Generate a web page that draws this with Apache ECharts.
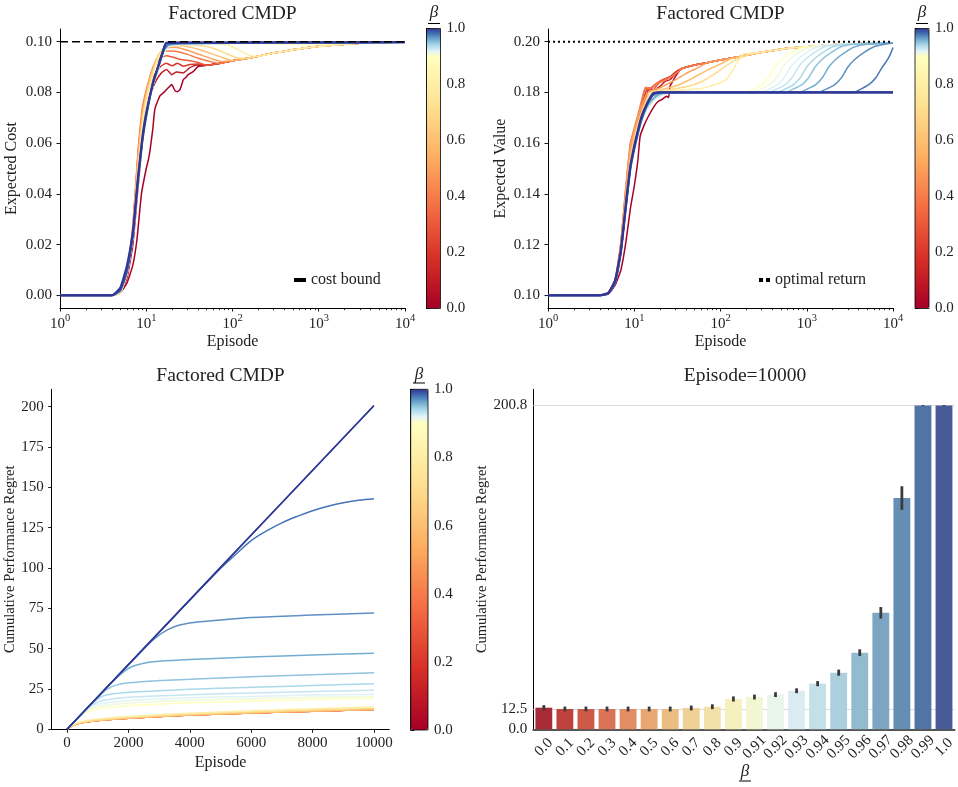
<!DOCTYPE html>
<html><head><meta charset="utf-8">
<script src="https://cdn.jsdelivr.net/npm/echarts@6/dist/echarts.min.js"></script>
<style>html,body{margin:0;padding:0;background:#fff}#c{width:958px;height:787px}</style>
</head><body><div id="c"></div><script>
// ---------------- DATA ----------------
const betas = [0.0,0.1,0.2,0.3,0.4,0.5,0.6,0.7,0.8,0.9,0.91,0.92,0.93,0.94,0.95,0.96,0.97,0.98,0.99,1.0];
const betaLabels = ['0.0','0.1','0.2','0.3','0.4','0.5','0.6','0.7','0.8','0.9','0.91','0.92','0.93','0.94','0.95','0.96','0.97','0.98','0.99','1.0'];

// Expected cost (top-left): [episode, cost]; common slow tail
const costTail = [[50,0.0907],[70,0.0914],[100,0.0925],[150,0.0935],[200,0.0943],[300,0.0955],[500,0.0968],[700,0.0975],[1000,0.0982],[2000,0.099],[3000,0.0994],[5000,0.0997],[10000,0.0998]];
const costHeads = [
  [[1,0],[4,0],[5,0.001],[6,0.005],[7,0.012],[7.8,0.022],[8.8,0.040],[10,0.050],[10.6,0.0535],[11.1,0.0575],[11.9,0.0654],[12.6,0.0735],[14.4,0.0786],[16,0.080],[18,0.0818],[19.7,0.0831],[21.6,0.0806],[23,0.0803],[24.6,0.0811],[26.9,0.085],[28.5,0.0858],[30.6,0.087],[35,0.0882],[40,0.0902]],
  [[1,0],[4,0],[5,0.001],[6,0.007],[7,0.02],[8,0.042],[9,0.06],[10,0.07],[11,0.078],[12,0.082],[13.2,0.085],[15,0.0877],[17.2,0.089],[19.7,0.087],[22.5,0.088],[26.9,0.0877],[32,0.0898],[38.5,0.0908],[45,0.0905]],
  [[1,0],[4,0],[5,0.001],[6,0.008],[7,0.024],[8,0.05],[9,0.068],[10,0.077],[11,0.083],[12,0.086],[13,0.088],[15,0.0905],[17,0.0915],[20,0.0905],[23,0.0915],[27,0.0903],[32,0.091],[40,0.0912]],
  [[1,0],[4,0],[5,0.001],[6,0.008],[7,0.026],[8,0.055],[9,0.072],[10,0.08],[11,0.085],[12,0.089],[14,0.093],[17,0.0945],[20,0.094],[25,0.093],[32,0.0925],[40,0.0918]],
  [[1,0],[4,0],[5,0.001],[6,0.009],[7,0.028],[8,0.056],[9,0.074],[10,0.081],[11,0.086],[12,0.09],[14,0.094],[17,0.0963],[22,0.0962],[30,0.095],[40,0.0935],[55,0.0922]],
  [[1,0],[4,0],[5,0.001],[6,0.009],[7,0.027],[8,0.054],[9,0.072],[10,0.08],[11,0.086],[12,0.09],[14,0.095],[17,0.0975],[22,0.0978],[30,0.0966],[45,0.0945],[75,0.0922]],
  [[1,0],[4,0],[5,0.001],[6,0.009],[7,0.026],[8,0.052],[9,0.07],[10,0.079],[11,0.085],[12,0.089],[14,0.095],[16,0.097],[18,0.0983],[25,0.0985],[40,0.097],[60,0.095],[85,0.0932]],
  [[1,0],[4,0],[5,0.001],[6,0.009],[7,0.025],[8,0.05],[9,0.068],[10,0.078],[12,0.088],[14,0.095],[16,0.0975],[20,0.0988],[35,0.0988],[55,0.0978],[80,0.0957],[110,0.0937]],
  [[1,0],[4,0],[5,0.001],[6,0.009],[7,0.024],[8,0.048],[9,0.066],[10,0.076],[12,0.087],[14,0.094],[16,0.097],[20,0.0988],[60,0.099],[90,0.0986],[120,0.0966],[160,0.0945]],
  [[1,0],[4,0],[5,0.0015],[6,0.009],[7,0.023],[8,0.044],[9,0.06],[10,0.07],[12,0.083],[14,0.09],[16,0.0955],[18,0.098],[25,0.099],[100,0.0993],[300,0.0992],[600,0.0988],[1000,0.099],[3000,0.0995],[10000,0.0998]],
  [[1,0],[4,0],[5,0.0015],[6,0.009],[7,0.023],[8,0.044],[9,0.06],[10,0.07],[12,0.083],[14,0.09],[16,0.096],[18,0.0982],[25,0.099],[100,0.0994],[1000,0.0996],[10000,0.0998]],
  [[1,0],[4,0],[5,0.0015],[6,0.009],[7,0.023],[8,0.044],[9,0.06],[10,0.07],[12,0.083],[14,0.09],[16,0.096],[18,0.0982],[25,0.099],[100,0.0994],[1000,0.0996],[10000,0.0998]],
  [[1,0],[4,0],[5,0.0015],[6,0.009],[7,0.023],[8,0.045],[9,0.061],[10,0.071],[12,0.083],[14,0.09],[16,0.0962],[18,0.0984],[25,0.0991],[100,0.0994],[1000,0.0996],[10000,0.0998]],
  [[1,0],[4,0],[5,0.0015],[6,0.009],[7,0.023],[8,0.045],[9,0.061],[10,0.071],[12,0.083],[14,0.09],[16,0.0962],[18,0.0984],[25,0.0991],[100,0.0994],[1000,0.0996],[10000,0.0998]],
  [[1,0],[4,0],[5,0.0018],[6,0.009],[7,0.023],[8,0.045],[9,0.061],[10,0.071],[12,0.084],[14,0.091],[16,0.0965],[18,0.0986],[25,0.0992],[100,0.0995],[1000,0.0996],[10000,0.0998]],
  [[1,0],[4,0],[5,0.0018],[6,0.009],[7,0.023],[8,0.045],[9,0.061],[10,0.071],[12,0.084],[14,0.091],[16,0.0965],[18,0.0986],[25,0.0992],[100,0.0995],[1000,0.0996],[10000,0.0998]],
  [[1,0],[4,0],[5,0.002],[6,0.01],[7,0.024],[8,0.045],[9,0.061],[10,0.071],[12,0.084],[14,0.091],[16,0.0968],[18,0.0988],[25,0.0993],[100,0.0995],[1000,0.0996],[10000,0.0998]],
  [[1,0],[4,0],[5,0.002],[6,0.01],[7,0.024],[8,0.045],[9,0.061],[10,0.071],[12,0.084],[14,0.091],[16,0.097],[18,0.099],[25,0.0994],[100,0.0995],[1000,0.0996],[10000,0.0998]],
  [[1,0],[4,0],[5,0.002],[6,0.01],[7,0.024],[8,0.045],[9,0.061],[10,0.071],[12,0.084],[14,0.091],[16,0.097],[17,0.0995],[30,0.0996],[300,0.0997],[10000,0.0998]],
  [[1,0],[4,0],[5,0.003],[6,0.012],[7,0.025],[8,0.046],[9,0.062],[10,0.072],[12,0.0837],[13.8,0.0904],[15.8,0.0969],[17.2,0.0995],[30,0.0996],[300,0.0997],[10000,0.0998]]
];
const costBound = 0.1;

// Expected value (top-right): [episode, value]
const valueTail = [[35,0.1893],[50,0.1908],[70,0.1917],[100,0.1928],[170,0.1942],[300,0.1958],[640,0.1975],[1000,0.198],[2000,0.1988],[5000,0.1993],[10000,0.1995]];
const valueHeads = [
  [[1,0.1],[4,0.1],[5,0.1005],[6,0.104],[7,0.11],[8,0.121],[9,0.134],[10,0.143],[11,0.153],[11.7,0.1627],[13,0.167],[14.6,0.1706],[17,0.1745],[19,0.1765],[21,0.1772],[23.7,0.1785],[25,0.178],[26,0.1825],[28,0.1845],[31,0.187]],
  [[1,0.1],[4,0.1],[5,0.101],[6,0.105],[7,0.117],[8,0.135],[9,0.152],[10,0.16],[11,0.166],[12,0.171],[14,0.1795],[15,0.1815],[17,0.181],[20,0.1825],[23,0.1845],[26,0.185],[30,0.1875]],
  [[1,0.1],[4,0.1],[5,0.101],[6,0.106],[7,0.12],[8,0.14],[9,0.156],[10,0.163],[11,0.168],[12,0.1735],[14,0.1815],[16,0.1818],[18,0.1835],[22,0.1852],[26,0.1862],[30,0.188]],
  [[1,0.1],[4,0.1],[5,0.101],[6,0.106],[7,0.121],[8,0.142],[9,0.159],[10,0.165],[11,0.17],[12,0.175],[13.5,0.1818],[16,0.1805],[18,0.1825],[21,0.1848],[25,0.1858],[30,0.1872]],
  [[1,0.1],[4,0.1],[5,0.101],[6,0.106],[7,0.121],[8,0.143],[9,0.16],[10,0.166],[11,0.171],[12,0.176],[13.5,0.182],[15,0.1815],[18,0.1835],[22,0.1845],[27,0.1862],[32,0.188]],
  [[1,0.1],[4,0.1],[5,0.101],[6,0.106],[7,0.12],[8,0.142],[9,0.158],[10,0.165],[11,0.17],[12,0.174],[14,0.1795],[16,0.1808],[20,0.1818],[25,0.1835],[32,0.1855],[40,0.1875],[55,0.1898]],
  [[1,0.1],[4,0.1],[5,0.101],[6,0.105],[7,0.118],[8,0.138],[9,0.155],[10,0.163],[11,0.168],[12,0.172],[14,0.178],[16,0.1803],[20,0.181],[30,0.1825],[45,0.1852],[70,0.1888],[100,0.1912],[130,0.1932]],
  [[1,0.1],[4,0.1],[5,0.101],[6,0.105],[7,0.117],[8,0.136],[9,0.153],[10,0.161],[11,0.167],[12,0.171],[14,0.177],[16,0.1802],[25,0.181],[40,0.1822],[60,0.1842],[90,0.1878],[120,0.1908],[150,0.1928],[200,0.1945]],
  [[1,0.1],[4,0.1],[5,0.101],[6,0.105],[7,0.117],[8,0.135],[9,0.151],[10,0.16],[11,0.166],[12,0.17],[14,0.176],[17,0.18],[30,0.1808],[60,0.1815],[100,0.1838],[120,0.1855],[140,0.189],[160,0.1925],[185,0.1952],[230,0.1955]],
  [[1,0.1],[4,0.1],[5,0.1008],[6,0.105],[7,0.117],[8,0.134],[9,0.149],[10,0.157],[11,0.163],[12,0.168],[14,0.173],[17,0.177],[20,0.1788],[25,0.1797],[30,0.18],[200,0.18],[215,0.1805],[300,0.183],[365,0.186],[430,0.19],[515,0.193],[645,0.1955],[860,0.1975]],
  [[1,0.1],[4,0.1],[5,0.1008],[6,0.105],[7,0.117],[8,0.134],[9,0.149],[10,0.157],[11,0.163],[12,0.168],[14,0.173],[17,0.177],[20,0.1788],[25,0.1797],[30,0.18],[250,0.18],[265,0.1805],[370,0.183],[450,0.186],[530,0.19],[635,0.193],[795,0.1955],[1060,0.1977]],
  [[1,0.1],[4,0.1],[5,0.1008],[6,0.105],[7,0.117],[8,0.134],[9,0.149],[10,0.157],[11,0.163],[12,0.168],[14,0.1735],[17,0.1772],[20,0.179],[25,0.1798],[30,0.18],[300,0.18],[325,0.1805],[455,0.183],[550,0.186],[650,0.19],[780,0.193],[975,0.1955],[1300,0.1978]],
  [[1,0.1],[4,0.1],[5,0.1008],[6,0.105],[7,0.117],[8,0.134],[9,0.149],[10,0.157],[11,0.163],[12,0.168],[14,0.1735],[17,0.1772],[20,0.179],[25,0.1798],[30,0.18],[380,0.18],[400,0.1805],[560,0.183],[680,0.186],[800,0.19],[960,0.193],[1200,0.1955],[1600,0.198]],
  [[1,0.1],[4,0.1],[5,0.1008],[6,0.105],[7,0.117],[8,0.134],[9,0.149],[10,0.157],[11,0.163],[12,0.168],[14,0.174],[17,0.1775],[20,0.1792],[25,0.1799],[30,0.18],[470,0.18],[500,0.1805],[700,0.183],[850,0.186],[1000,0.19],[1200,0.193],[1500,0.1955],[2000,0.198],[3000,0.199]],
  [[1,0.1],[4,0.1],[5,0.1008],[6,0.105],[7,0.117],[8,0.135],[9,0.15],[10,0.158],[11,0.164],[12,0.169],[14,0.1745],[17,0.178],[20,0.1795],[30,0.18],[590,0.18],[620,0.1805],[875,0.183],[1060,0.186],[1250,0.19],[1500,0.193],[1875,0.1955],[2500,0.198],[3500,0.199]],
  [[1,0.1],[4,0.1],[5,0.1008],[6,0.105],[7,0.117],[8,0.135],[9,0.15],[10,0.158],[11,0.164],[12,0.169],[14,0.1745],[17,0.178],[20,0.1795],[30,0.18],[850,0.18],[900,0.1805],[1260,0.183],[1530,0.186],[1800,0.19],[2160,0.193],[2700,0.1955],[3600,0.198],[5000,0.199],[10000,0.1995]],
  [[1,0.1],[4,0.1],[5,0.1008],[6,0.105],[7,0.117],[8,0.135],[9,0.15],[10,0.158],[11,0.164],[12,0.169],[14,0.175],[16,0.1785],[20,0.1798],[30,0.18],[1400,0.18],[1500,0.1805],[2100,0.183],[2550,0.186],[3000,0.19],[3600,0.193],[4500,0.1955],[6000,0.198],[8000,0.199],[10000,0.1995]],
  [[1,0.1],[4,0.1],[5,0.1008],[6,0.105],[7,0.117],[8,0.135],[9,0.15],[10,0.158],[11,0.164],[12,0.169],[14,0.175],[16,0.1785],[17,0.1795],[20,0.18],[3500,0.18],[3800,0.1805],[5200,0.183],[6400,0.186],[7500,0.19],[8500,0.1925],[9300,0.195],[10000,0.1977]],
  [[1,0.1],[4,0.1],[5,0.1008],[6,0.105],[7,0.117],[8,0.135],[9,0.15],[10,0.158],[11,0.164],[12,0.169],[14,0.175],[16,0.1785],[17,0.1795],[20,0.18],[10000,0.18]],
  [[1,0.1],[4,0.1],[5,0.101],[6,0.106],[7,0.118],[8,0.136],[9,0.151],[10,0.159],[11,0.165],[12,0.17],[14,0.1755],[16,0.179],[17,0.1798],[20,0.18],[10000,0.18]]
];
const optimalReturn = 0.2;

// Cumulative performance regret (bottom-left): [episode, regret]
const regretCurves = [
  [[0,0],[100,1.5],[300,3.3],[600,4.6],[1000,5.6],[2000,7.0],[4000,8.9],[6000,10.2],[8000,11.3],[10000,12.4]],
  [[0,0],[100,1.4],[300,3.2],[600,4.5],[1000,5.5],[2000,6.9],[4000,8.8],[6000,10.1],[8000,11.2],[10000,12.3]],
  [[0,0],[100,1.4],[300,3.2],[600,4.5],[1000,5.5],[2000,6.9],[4000,8.8],[6000,10.1],[8000,11.2],[10000,12.3]],
  [[0,0],[100,1.4],[300,3.2],[600,4.5],[1000,5.5],[2000,6.9],[4000,8.8],[6000,10.1],[8000,11.2],[10000,12.3]],
  [[0,0],[100,1.4],[300,3.2],[600,4.5],[1000,5.5],[2000,6.9],[4000,8.8],[6000,10.1],[8000,11.2],[10000,12.3]],
  [[0,0],[100,1.4],[300,3.2],[600,4.5],[1000,5.5],[2000,6.9],[4000,8.8],[6000,10.1],[8000,11.2],[10000,12.3]],
  [[0,0],[100,1.4],[300,3.2],[600,4.5],[1000,5.5],[2000,6.9],[4000,8.8],[6000,10.1],[8000,11.2],[10000,12.3]],
  [[0,0],[100,1.5],[300,3.4],[600,4.8],[1000,5.8],[2000,7.3],[4000,9.3],[6000,10.7],[8000,11.9],[10000,13.0]],
  [[0,0],[100,1.6],[300,3.8],[600,5.3],[1000,6.4],[2000,8.0],[4000,10.0],[6000,11.5],[8000,12.7],[10000,13.8]],
  [[0,0],[200,4],[400,7.8],[600,10.3],[1000,12.6],[2000,14.6],[4000,16.4],[6000,17.5],[8000,18.4],[10000,19.2]],
  [[0,0],[200,4],[450,8.9],[700,12.3],[1000,14.2],[2000,16.3],[4000,18],[6000,19],[8000,19.8],[10000,20.5]],
  [[0,0],[250,5],[500,9.9],[750,13.6],[1000,15.6],[2000,17.9],[4000,19.5],[6000,20.4],[8000,21.2],[10000,21.8]],
  [[0,0],[300,6],[600,11.9],[900,16],[1200,18],[2000,19.8],[4000,21.4],[6000,22.5],[8000,23.4],[10000,24.2]],
  [[0,0],[400,8],[800,15.8],[1100,20],[1500,22],[2000,22.9],[4000,24.8],[6000,26],[8000,27.2],[10000,28.3]],
  [[0,0],[500,10],[1000,19.9],[1300,24.8],[1600,27.4],[2000,28.8],[3000,30.2],[4000,31],[6000,32.6],[8000,33.8],[10000,35]],
  [[0,0],[800,16],[1500,29.8],[1800,35],[2100,38.8],[2500,41],[3000,42.2],[4000,43.3],[6000,44.8],[8000,46],[10000,47.2]],
  [[0,0],[1000,20],[2500,49.8],[2900,57],[3300,62],[3700,64.8],[4200,66.4],[5000,67.8],[6000,69.3],[8000,70.8],[10000,72.1]],
  [[0,0],[3000,60],[5000,99.7],[5500,108.5],[6000,117],[6500,123],[7000,128],[7500,132],[8000,135.5],[8500,138.3],[9000,140.5],[9500,142],[10000,143]],
  [[0,0],[5000,100.3],[10000,200.6]],
  [[0,0],[5000,100.4],[10000,200.8]]
];

// Bar chart (bottom-right): regret at episode 10000, mean and error half-range
const barValues = [13.4,12.6,12.6,12.6,12.6,12.6,12.6,13.2,14.0,18.8,20.0,21.5,23.9,28.3,35.1,47.5,72.2,143.4,200.8,200.8];
const barErrors = [1.6,1.5,1.5,1.5,1.5,1.5,1.5,1.5,1.5,1.6,1.5,1.5,1.5,1.6,1.9,2.1,3.6,7.3,0.3,0.3];

// Tick labels
const costTicks = [0,0.02,0.04,0.06,0.08,0.10];
const valueTicks = [0.10,0.12,0.14,0.16,0.18,0.20];
const regretTicks = [0,25,50,75,100,125,150,175,200];
const episodeTicks = [0,2000,4000,6000,8000,10000];
const barTicks = [0,12.5,200.8];
const cbTicks = [0,0.2,0.4,0.6,0.8,1.0];
const logMinor = [2,3,4,5,6,7,8,9,20,30,40,50,60,70,80,90,200,300,400,500,600,700,800,900,2000,3000,4000,5000,6000,7000,8000,9000];

// ---------------- STYLE HELPERS ----------------
const FONT = 'Liberation Serif';
const TXT = '#222';
const RDYLBU = ['#a50026','#d73027','#f46d43','#fdae61','#fee090','#ffffbf','#e0f3f8','#abd9e9','#74add1','#4575b4','#313695'];
function hex(h){return [1,3,5].map(i=>parseInt(h.substr(i,2),16));}
function rgbStr(c){return 'rgb('+c.map(v=>Math.round(v)).join(',')+')';}
function cmapRGB(t){t=Math.max(0,Math.min(1,t));const p=t*10;const i=Math.min(9,Math.floor(p));const f=p-i;const a=hex(RDYLBU[i]),b=hex(RDYLBU[i+1]);return a.map((v,k)=>v+(b[k]-v)*f);}
function norm(b){return b<=0.9? b/0.9*0.5 : 0.5+(b-0.9)/0.1*0.5;}
function betaColor(b){return rgbStr(cmapRGB(norm(b)));}
function desat(c,s){
  let [r,g,b]=c.map(v=>v/255);const mx=Math.max(r,g,b),mn=Math.min(r,g,b);let h=0,l=(mx+mn)/2,sat=0;
  if(mx!==mn){const d=mx-mn;sat=l>0.5?d/(2-mx-mn):d/(mx+mn);
    if(mx===r)h=((g-b)/d+(g<b?6:0));else if(mx===g)h=(b-r)/d+2;else h=(r-g)/d+4;h/=6;}
  sat*=s;
  function hue2rgb(p,q,t){if(t<0)t+=1;if(t>1)t-=1;if(t<1/6)return p+(q-p)*6*t;if(t<1/2)return q;if(t<2/3)return p+(q-p)*(2/3-t)*6;return p;}
  if(sat===0)return [l*255,l*255,l*255];
  const q=l<0.5?l*(1+sat):l+sat-l*sat,p=2*l-q;
  return [hue2rgb(p,q,h+1/3)*255,hue2rgb(p,q,h)*255,hue2rgb(p,q,h-1/3)*255];
}
const vmColors=[];for(let k=0;k<=100;k++)vmColors.push(betaColor(k/100));

function withTail(head,tail){const last=head[head.length-1][0];return head.concat(tail.filter(p=>p[0]>last));}

const tickStyle={color:'#000',width:0.9};
function valAxisY(grid,min,max,ticks,fmt,name,gap,nfs){
  return {type:'value',gridIndex:grid,min:min,max:max,name:name,nameLocation:'middle',nameGap:gap,
    nameTextStyle:{fontFamily:FONT,fontSize:nfs,color:TXT},
    axisLine:{show:true,onZero:false,lineStyle:{color:'#000',width:1}},
    axisTick:{show:true,inside:false,length:3.5,customValues:ticks,lineStyle:tickStyle},
    axisLabel:{customValues:ticks,formatter:fmt,fontFamily:FONT,fontSize:15,color:TXT,margin:8},
    splitLine:{show:false}};
}
function logX(grid,name){
  return {type:'log',logBase:10,gridIndex:grid,position:'bottom',min:1,max:10000,name:name,nameLocation:'middle',nameGap:26,
    nameTextStyle:{fontFamily:FONT,fontSize:16,color:TXT},
    axisLine:{show:true,onZero:false,lineStyle:{color:'#000',width:1}},
    axisTick:{show:true,length:3.5,lineStyle:tickStyle},
    axisLabel:{margin:5,formatter:v=>'{b|10}{s|'+Math.round(Math.log10(v))+'}',
      rich:{b:{fontFamily:FONT,fontSize:15,color:TXT,verticalAlign:'bottom'},s:{fontFamily:FONT,fontSize:10.5,color:TXT,verticalAlign:'bottom',padding:[0,0,8,0]}}},
    splitLine:{show:false}};
}
function minorX(grid){
  return {type:'value',gridIndex:grid,position:'bottom',offset:0,min:0,max:4,axisLine:{show:false,onZero:false},axisLabel:{show:false},splitLine:{show:false},
    axisTick:{show:true,length:2.2,customValues:logMinor.map(v=>Math.log10(v)),lineStyle:{color:'#000',width:0.8}}};
}

// ---------------- LAYOUT ----------------
const G = {
  tl:{left:60,top:29,width:345,height:279},
  tr:{left:548,top:29,width:345,height:279},
  bl:{left:51.7,top:389.3,width:337.6,height:340},
  br:{left:533.3,top:389.3,width:423.4,height:340},
  cb1:{left:426.5,top:28.5,width:14,height:280},
  cb2:{left:915,top:28.5,width:14,height:280},
  cb3:{left:410.7,top:389.3,width:17.3,height:340.7}
};
const grids=[G.tl,G.tr,G.bl,G.br,G.cb1,G.cb2,G.cb3].map(g=>Object.assign({containLabel:false},g));

const xAxes=[
  logX(0,'Episode'),            //0
  logX(1,'Episode'),            //1
  {type:'value',gridIndex:2,min:-500,max:10500,name:'Episode',nameLocation:'middle',nameGap:25,
    nameTextStyle:{fontFamily:FONT,fontSize:16,color:TXT},
    axisLine:{show:true,onZero:false,lineStyle:{color:'#000',width:1}},
    axisTick:{show:true,length:3.5,customValues:episodeTicks,lineStyle:tickStyle},
    axisLabel:{customValues:episodeTicks,formatter:v=>String(v),fontFamily:FONT,fontSize:15,color:TXT,margin:6},
    splitLine:{show:false}},     //2
  {type:'category',gridIndex:3,data:betaLabels,boundaryGap:true,
    axisLine:{show:true,onZero:false,lineStyle:{color:'#555',width:2}},
    axisTick:{show:false},
    axisLabel:{rotate:45,align:'center',verticalAlign:'middle',margin:18,fontFamily:FONT,fontSize:15,color:TXT,interval:0},
    splitLine:{show:false}},     //3
  {type:'value',gridIndex:4,show:false,min:0,max:1},  //4
  {type:'value',gridIndex:5,show:false,min:0,max:1},  //5
  {type:'value',gridIndex:6,show:false,min:0,max:1},  //6
  minorX(0), //7
  minorX(1)  //8
];
function cbAxis(grid){
  return {type:'value',gridIndex:grid,min:0,max:1,position:'right',
    axisLine:{show:true,lineStyle:{color:'#000',width:0.8}},
    axisTick:{show:true,length:3.5,customValues:cbTicks,lineStyle:tickStyle},
    axisLabel:{customValues:cbTicks,formatter:v=>v.toFixed(1),fontFamily:FONT,fontSize:15,color:TXT,margin:6},
    splitLine:{show:false}};
}
const yAxes=[
  valAxisY(0,-0.005,0.105,costTicks,v=>v.toFixed(2),'Expected Cost',40,16),
  valAxisY(1,0.095,0.205,valueTicks,v=>v.toFixed(2),'Expected Value',39,16),
  valAxisY(2,0,210.8,regretTicks,v=>String(v),'Cumulative Performance Regret',33,14.5),
  {type:'value',gridIndex:3,min:0,max:210.8,name:'Cumulative Performance Regret',nameLocation:'middle',nameGap:42,
    nameTextStyle:{fontFamily:FONT,fontSize:14.5,color:TXT},
    axisLine:{show:true,lineStyle:{color:'#000',width:1}},
    axisTick:{show:false},
    axisLabel:{customValues:barTicks,formatter:v=>v.toFixed(1),fontFamily:FONT,fontSize:15,color:TXT,margin:6},
    splitLine:{show:false}},
  cbAxis(4),cbAxis(5),cbAxis(6)
];

// ---------------- SERIES ----------------
const series=[];
betas.forEach((b,i)=>{
  const w=(b>=0.99)?2.2:1.5;
  series.push({type:'line',name:'c'+i,xAxisIndex:0,yAxisIndex:0,data:withTail(costHeads[i],costTail),
    showSymbol:false,symbol:'none',smooth:0.15,silent:true,lineStyle:{color:betaColor(b),width:w},itemStyle:{color:betaColor(b)},z:2});
});
series.push({type:'line',name:'cost bound',xAxisIndex:0,yAxisIndex:0,data:[[1,costBound],[10000,costBound]],
  showSymbol:false,symbol:'none',silent:true,lineStyle:{color:'#000',width:1.6,type:[8,4]},itemStyle:{color:'#000'},z:5});
betas.forEach((b,i)=>{
  const w=(b>=0.99)?2.2:1.5;
  series.push({type:'line',name:'v'+i,xAxisIndex:1,yAxisIndex:1,data:withTail(valueHeads[i],valueTail),
    showSymbol:false,symbol:'none',smooth:0.15,silent:true,lineStyle:{color:betaColor(b),width:w},itemStyle:{color:betaColor(b)},z:2});
});
series.push({type:'line',name:'optimal return',xAxisIndex:1,yAxisIndex:1,data:[[1,optimalReturn],[10000,optimalReturn]],
  showSymbol:false,symbol:'none',silent:true,lineStyle:{color:'#000',width:2,type:[2,3]},itemStyle:{color:'#000'},z:5});
betas.forEach((b,i)=>{
  series.push({type:'line',name:'r'+i,xAxisIndex:2,yAxisIndex:2,data:regretCurves[i],
    showSymbol:false,symbol:'none',smooth:0.35,silent:true,lineStyle:{color:betaColor(b),width:1.5},itemStyle:{color:betaColor(b)},z:2});
});
series.push({type:'bar',name:'bars',xAxisIndex:3,yAxisIndex:3,barWidth:'80%',silent:true,z:2,
  data:barValues.map((v,i)=>({value:v,itemStyle:{color:rgbStr(desat(cmapRGB((i+1)/21),0.75))}})),
  markLine:{silent:true,symbol:'none',z:1,label:{show:false},lineStyle:{color:'#dcdcdc',width:1,type:'solid'},
    data:[{yAxis:barTicks[1]},{yAxis:barTicks[2]}]}});
series.push({type:'custom',name:'err',xAxisIndex:3,yAxisIndex:3,silent:true,z:4,
  data:barValues.map((v,i)=>[i,v-barErrors[i],v+barErrors[i]]),
  renderItem:(params,api)=>{const x=api.value(0);const p1=api.coord([x,api.value(1)]);const p2=api.coord([x,api.value(2)]);
    return {type:'line',shape:{x1:p1[0],y1:p1[1],x2:p2[0],y2:p2[1]},style:{stroke:'#3b3b3b',lineWidth:2.8}};}});

// ---------------- VISUAL MAPS (colorbars) ----------------
function vm(g){return {type:'continuous',min:0,max:1,seriesIndex:[],show:true,calculable:false,hoverLink:false,
  left:g.left,top:g.top,itemWidth:g.width,itemHeight:g.height,padding:0,text:null,showLabel:false,
  inRange:{color:vmColors},textStyle:{color:'transparent'}};}

// ---------------- GRAPHICS (colorbar frames, β labels) ----------------
function frame(g){return {type:'rect',shape:{x:g.left,y:g.top,width:g.width,height:g.height},style:{fill:null,stroke:'#000',lineWidth:0.8},z:100,silent:true};}
function betaLabel(cx,ty,uy){return [
  {type:'text',x:cx,y:ty,style:{text:'β',font:'italic 17px '+FONT,fill:TXT,textAlign:'center',textVerticalAlign:'top'},z:100,silent:true},
  {type:'line',shape:{x1:cx-6,y1:uy,x2:cx+6,y2:uy},style:{stroke:'#000',lineWidth:1},z:100,silent:true}];}

const TS={fontFamily:FONT,fontSize:19.5,fontWeight:'normal',color:TXT};
const option={
  animation:false,
  backgroundColor:'#fff',
  title:[
    {text:'Factored CMDP',left:232.5,top:4,textAlign:'center',padding:0,textStyle:TS},
    {text:'Factored CMDP',left:720.5,top:4,textAlign:'center',padding:0,textStyle:TS},
    {text:'Factored CMDP',left:220.5,top:366,textAlign:'center',padding:0,textStyle:TS},
    {text:'Episode=10000',left:745,top:366,textAlign:'center',padding:0,textStyle:TS}
  ],
  legend:[
    {data:['cost bound'],left:294,top:272,padding:0,itemWidth:12,itemHeight:4,icon:'rect',itemGap:5,selectedMode:false,
      textStyle:{fontFamily:FONT,fontSize:16,color:TXT}},
    {data:['optimal return'],left:759,top:272,padding:0,itemWidth:11,itemHeight:4,icon:'path://M0,0H4V4H0Z M7,0H11V4H7Z',selectedMode:false,
      textStyle:{fontFamily:FONT,fontSize:16,color:TXT}}
  ],
  grid:grids,
  xAxis:xAxes,
  yAxis:yAxes,
  visualMap:[vm(G.cb1),vm(G.cb2),vm(G.cb3)],
  series:series,
  graphic:[frame(G.cb1),frame(G.cb2),frame(G.cb3)]
    .concat(betaLabel(434,4,23.5))
    .concat(betaLabel(922,4,23.5))
    .concat(betaLabel(419,366,383))
    .concat(betaLabel(745,763,781))
};
const chart=echarts.init(document.getElementById('c'),null,{renderer:'canvas'});
chart.setOption(option);
</script></body></html>
